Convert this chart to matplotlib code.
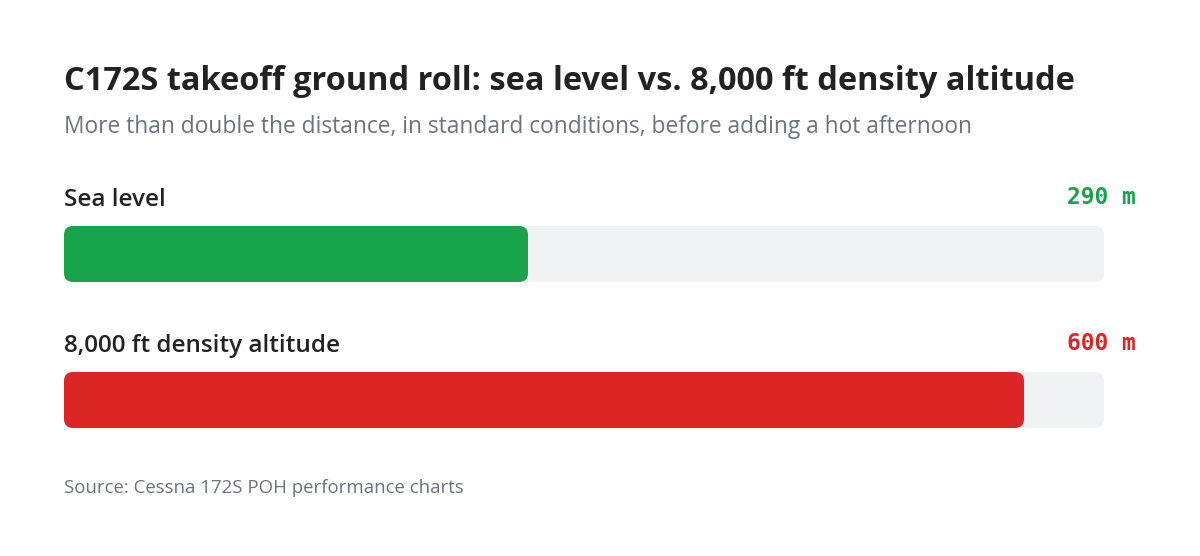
import matplotlib.pyplot as plt
from matplotlib.patches import FancyBboxPatch

labels = ["Sea level", "8,000 ft density altitude"]
values = [290, 600]
unit = "m"
colors = ["#16a34a", "#dc2626"]
axis_max = 650

title = "C172S takeoff ground roll: sea level vs. 8,000 ft density altitude"
subtitle = "More than double the distance, in standard conditions, before adding a hot afternoon"
source = "Source: Cessna 172S POH performance charts"

W, H = 1200, 556
fig = plt.figure(figsize=(W / 100, H / 100), dpi=100)
fig.patch.set_facecolor("white")

font = "Open Sans"

def fx(px):
  return px / W

def fy(py):
  return 1 - py / H

fig.text(fx(64), fy(81), title, fontsize=23.4, fontweight="bold", color="#222222",
         family=font, va="center", ha="left")
fig.text(fx(64), fy(127), subtitle, fontsize=16.35, color="#6b7280",
         family=font, va="center", ha="left")

bar_left, bar_w, bar_h = 64, 1040, 56
bar_tops = [226, 372]
radius_px = 9

for i, (lab, val, col) in enumerate(zip(labels, values, colors)):
  top = bar_tops[i]
  ax = fig.add_axes([fx(bar_left), fy(top + bar_h), bar_w / W, bar_h / H])
  ax.set_xlim(0, axis_max)
  ax.set_ylim(0, 1)
  ax.axis("off")
  rx = radius_px * axis_max / bar_w
  aspect = (radius_px / bar_h) / rx
  track = FancyBboxPatch((0, 0), axis_max, 1, boxstyle="round,pad=0,rounding_size=%f" % rx,
                         mutation_aspect=aspect, fc="#f1f2f4", ec="none")
  ax.add_patch(track)
  bar = FancyBboxPatch((0, 0), val, 1, boxstyle="round,pad=0,rounding_size=%f" % rx,
                       mutation_aspect=aspect, fc=col, ec="none")
  ax.add_patch(bar)

  fig.text(fx(64), fy(top - 26), lab, fontsize=17.5, color="#222222", family=font,
           va="center", ha="left", fontweight="semibold")
  fig.text(fx(1136), fy(top - 29), "%d %s" % (val, unit), fontsize=16.5, color=col,
           family="DejaVu Sans Mono", fontweight="bold", va="center", ha="right")

fig.text(fx(64), fy(488), source, fontsize=13.4, color="#6b7280", family=font,
         va="center", ha="left")

plt.savefig("out.png", dpi=100, facecolor="white")
